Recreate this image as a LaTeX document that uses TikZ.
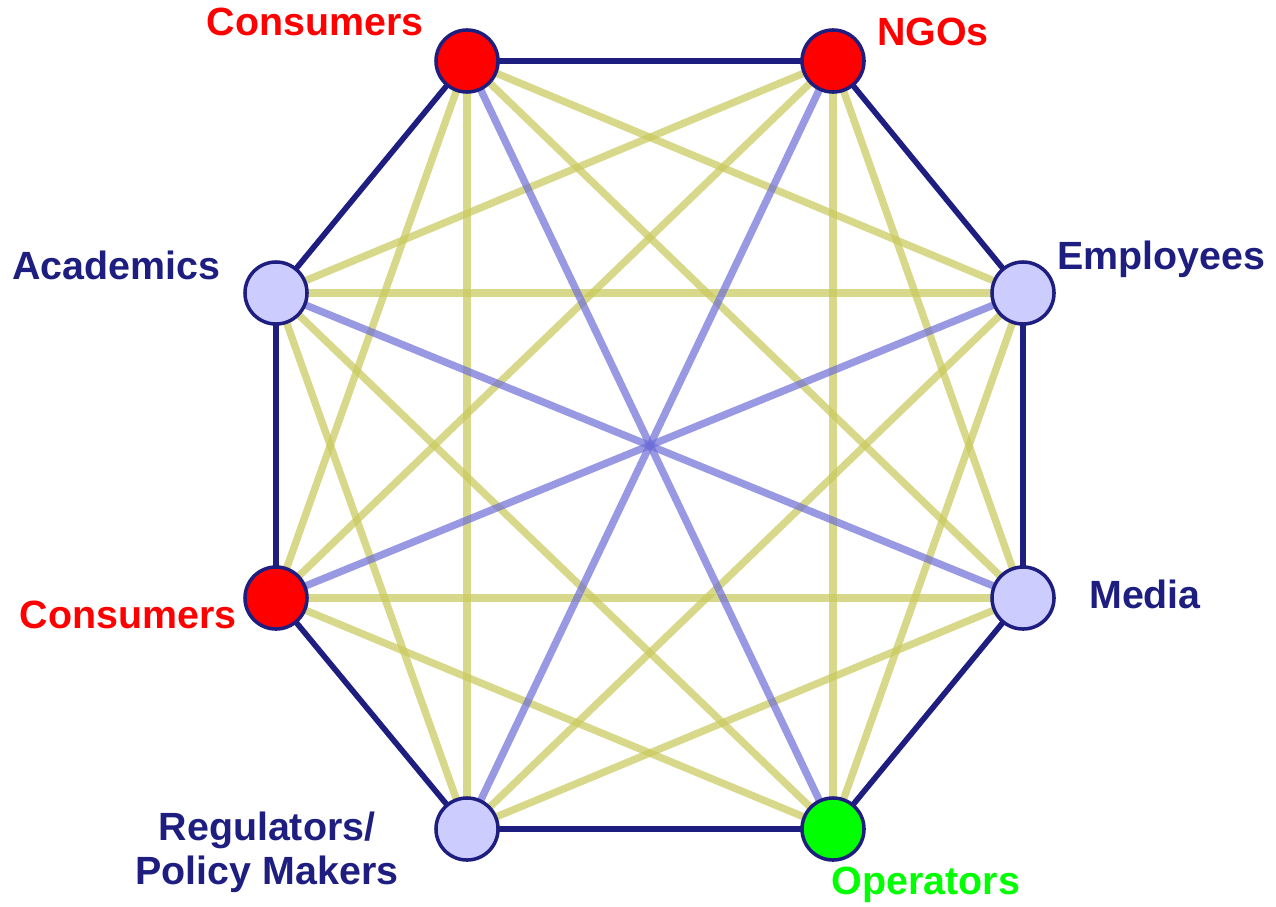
\documentclass[tikz,border=0pt]{standalone}
\usepackage{fontspec}
\setmainfont{Liberation Sans}
\definecolor{navy}{RGB}{30,30,128}
\definecolor{lav}{RGB}{204,204,255}
\definecolor{olivelink}{RGB}{200,200,90}
\definecolor{bluelink}{RGB}{110,110,215}
\definecolor{pure red}{RGB}{255,0,0}
\definecolor{pure green}{RGB}{0,255,0}
\tikzset{
  x=0.01cm, y=-0.01cm,
  party/.style={circle, draw=navy, line width=1pt, minimum size=0.62cm, inner sep=0pt},
  rim/.style={draw=navy, line width=1.6pt},
  link/.style={draw=olivelink, line width=2.1pt, opacity=0.7},
  crosslink/.style={draw=bluelink, line width=2.1pt, opacity=0.7},
  lbl/.style={font=\bfseries\fontsize{11.2}{12.5}\selectfont, inner sep=0pt, align=center},
}
\begin{document}
\begin{tikzpicture}
\useasboundingbox (0,0) rectangle (1276,906);
% vertex positions of the octagon
\coordinate (p1) at (467,61);
\coordinate (p2) at (833,61);
\coordinate (p3) at (1023,293);
\coordinate (p4) at (1023,598);
\coordinate (p5) at (833,829);
\coordinate (p6) at (467,829);
\coordinate (p7) at (276,598);
\coordinate (p8) at (276,293);
% chords skipping one or two vertices
\foreach \i in {1,...,8}{
  \pgfmathtruncatemacro{\a}{mod(\i+1,8)+1}
  \pgfmathtruncatemacro{\b}{mod(\i+2,8)+1}
  \draw[link] (p\i) -- (p\a);
  \draw[link] (p\i) -- (p\b);
}
% long diagonals through the centre
\foreach \i in {1,...,4}{
  \pgfmathtruncatemacro{\a}{\i+4}
  \draw[crosslink] (p\i) -- (p\a);
}
% outer ring
\draw[rim] (p1) -- (p2) -- (p3) -- (p4) -- (p5) -- (p6) -- (p7) -- (p8) -- cycle;
% stakeholder nodes
\node[party, fill=pure red] (cons1) at (p1) {};
\node[party, fill=pure red] (ngo) at (p2) {};
\node[party, fill=lav] (emp) at (p3) {};
\node[party, fill=lav] (media) at (p4) {};
\node[party, fill=pure green] (oper) at (p5) {};
\node[party, fill=lav] (reg) at (p6) {};
\node[party, fill=pure red] (cons2) at (p7) {};
\node[party, fill=lav] (acad) at (p8) {};
% labels
\node[lbl, text=pure red] (tcons1) at (315,22) {Consumers};
\node[lbl, text=pure red] (tngo) at (933,32) {NGOs};
\node[lbl, text=navy] (temp) at (1161,259) {Employees};
\node[lbl, text=navy] (tacad) at (116,265) {Academics};
\node[lbl, text=navy] (tmedia) at (1145,594) {Media};
\node[lbl, text=pure red] (tcons2) at (128,615) {Consumers};
\node[lbl, text=navy] (treg) at (267,852) {Regulators/\\Policy Makers};
\node[lbl, text=pure green] (toper) at (926,885) {Operators};
\end{tikzpicture}
\end{document}
